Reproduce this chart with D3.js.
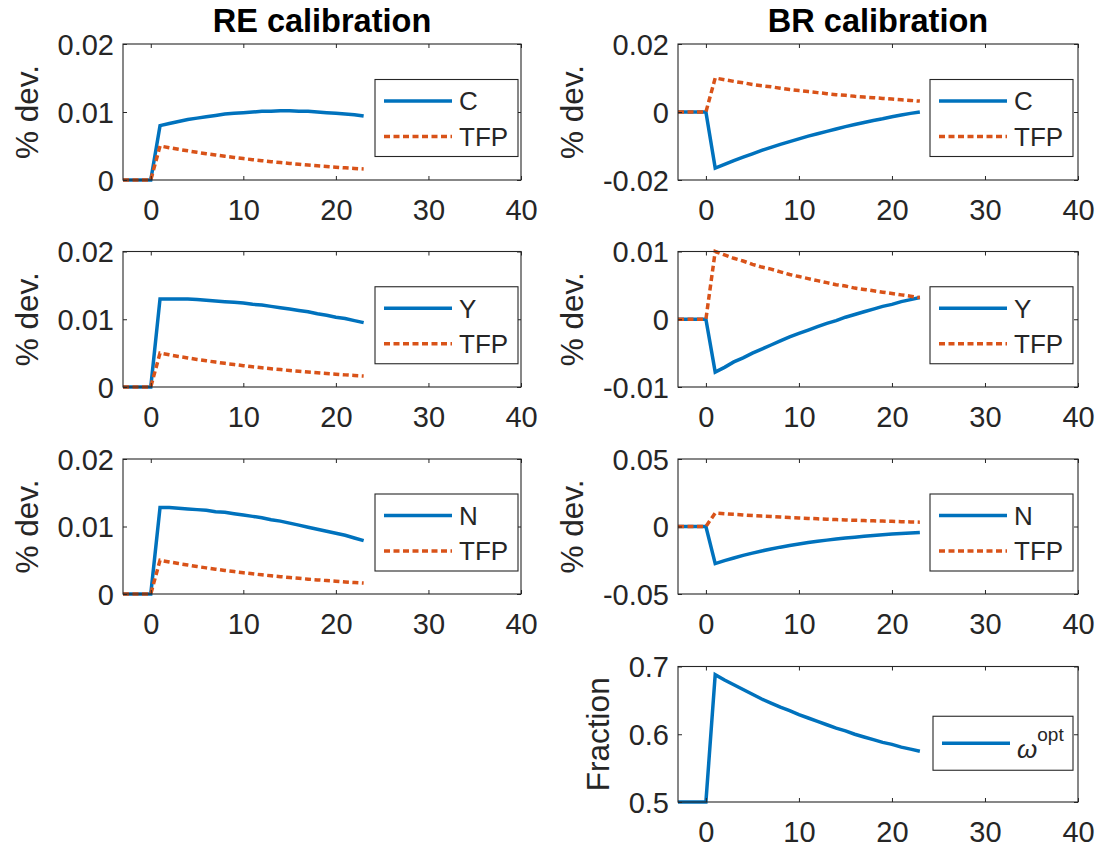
<!DOCTYPE html>
<html><head><meta charset="utf-8">
<script src="https://cdn.jsdelivr.net/npm/d3@7"></script>
<style>body{margin:0;background:#fff}</style>
</head><body>
<svg id="c" width="1102" height="853"></svg>
<script>
// ---------- data ----------
const periods = [-3,-2,-1,0,1,2,3,4,5,6,7,8,9,10,11,12,13,14,15,16,17,18,19,20,21,22,23];

const reTFP = [0,0,0,0,0.00500,0.00475,0.00451,0.00429,0.00407,0.00387,0.00368,0.00349,0.00332,0.00315,0.00299,0.00284,0.00270,0.00257,0.00244,0.00232,0.00220,0.00209,0.00199,0.00189,0.00179,0.00170,0.00162];
const brTFP = [0,0,0,0,0.0100,0.0095,0.0090,0.0086,0.0081,0.0077,0.0074,0.0070,0.0066,0.0063,0.0060,0.0057,0.0054,0.0051,0.0049,0.0046,0.0044,0.0042,0.0040,0.0038,0.0036,0.0034,0.0032];

const reC = [0,0,0,0,0.0080,0.0083,0.0086,0.0089,0.0091,0.0093,0.0095,0.0097,0.0098,0.0099,0.0100,0.0101,0.0101,0.0102,0.0102,0.0101,0.0101,0.0100,0.0099,0.0098,0.0097,0.0096,0.0094];
const reY = [0,0,0,0,0.0130,0.0130,0.0130,0.0130,0.0129,0.0128,0.0127,0.0126,0.0125,0.0124,0.0122,0.0121,0.0119,0.0117,0.0115,0.0113,0.0111,0.0108,0.0106,0.0103,0.0101,0.0098,0.0095];
const reN = [0,0,0,0,0.0128,0.0128,0.0127,0.0126,0.0125,0.0124,0.0122,0.0121,0.0119,0.0117,0.0115,0.0113,0.0110,0.0108,0.0105,0.0102,0.0099,0.0096,0.0093,0.0090,0.0087,0.0083,0.0079];

const brC = [0,0,0,0,-0.0165,-0.0154,-0.0143,-0.0133,-0.0123,-0.0113,-0.0104,-0.0095,-0.0087,-0.0079,-0.0071,-0.0064,-0.0057,-0.0050,-0.0043,-0.0037,-0.0031,-0.0025,-0.0020,-0.0014,-0.0009,-0.0004,0.0000];
const brY = [0,0,0,0,-0.0078,-0.0071,-0.0063,-0.0057,-0.0050,-0.0044,-0.0038,-0.0032,-0.0026,-0.0021,-0.0016,-0.0011,-0.0006,-0.0002,0.0003,0.0007,0.0011,0.0015,0.0019,0.0022,0.0026,0.0029,0.0032];
const brN = [0,0,0,0,-0.0275,-0.0253,-0.0233,-0.0214,-0.0197,-0.0181,-0.0167,-0.0153,-0.0141,-0.0130,-0.0119,-0.0110,-0.0101,-0.0093,-0.0085,-0.0079,-0.0072,-0.0066,-0.0061,-0.0056,-0.0052,-0.0048,-0.0044];

const omegaOpt = [0.5,0.5,0.5,0.5,0.688,0.680,0.673,0.666,0.659,0.652,0.646,0.640,0.635,0.629,0.624,0.619,0.614,0.609,0.605,0.600,0.596,0.592,0.588,0.585,0.581,0.578,0.575];

const xTicks = [0,10,20,30,40];
const xTickLabels = ["0","10","20","30","40"];
const yTicksA = [0,0.01,0.02];       const yTickLabelsA = ["0","0.01","0.02"];
const yTicksBC = [-0.02,0,0.02];     const yTickLabelsBC = ["-0.02","0","0.02"];
const yTicksBY = [-0.01,0,0.01];     const yTickLabelsBY = ["-0.01","0","0.01"];
const yTicksBN = [-0.05,0,0.05];     const yTickLabelsBN = ["-0.05","0","0.05"];
const yTicksW = [0.5,0.6,0.7];       const yTickLabelsW = ["0.5","0.6","0.7"];

const columnTitles = ["RE calibration","BR calibration"];

// ---------- styling / layout ----------
const FONT = "'Liberation Sans', Arial, Helvetica, sans-serif";
const AX = "#262626";
const BLUE = "#0072BD", ORANGE = "#D95319";
const colX = [{l:123, r:521},{l:678, r:1078}];
const rowY = [{t:44,b:180},{t:251.5,b:387},{t:459,b:594},{t:666.5,b:802}];

const solid = (name, data) => ({name, data, color:BLUE, dash:null});
const dotted = (name, data) => ({name, data, color:ORANGE, dash:"6,3.5"});

const panels = [
 {col:0,row:0,dom:[0,0.02],ticks:yTicksA,labels:yTickLabelsA,ylab:"% dev.",series:[solid("C",reC),dotted("TFP",reTFP)]},
 {col:1,row:0,dom:[-0.02,0.02],ticks:yTicksBC,labels:yTickLabelsBC,ylab:"% dev.",series:[solid("C",brC),dotted("TFP",brTFP)]},
 {col:0,row:1,dom:[0,0.02],ticks:yTicksA,labels:yTickLabelsA,ylab:"% dev.",series:[solid("Y",reY),dotted("TFP",reTFP)]},
 {col:1,row:1,dom:[-0.01,0.01],ticks:yTicksBY,labels:yTickLabelsBY,ylab:"% dev.",series:[solid("Y",brY),dotted("TFP",brTFP)]},
 {col:0,row:2,dom:[0,0.02],ticks:yTicksA,labels:yTickLabelsA,ylab:"% dev.",series:[solid("N",reN),dotted("TFP",reTFP)]},
 {col:1,row:2,dom:[-0.05,0.05],ticks:yTicksBN,labels:yTickLabelsBN,ylab:"% dev.",series:[solid("N",brN),dotted("TFP",brTFP)]},
 {col:1,row:3,dom:[0.5,0.7],ticks:yTicksW,labels:yTickLabelsW,ylab:"Fraction",series:[solid("omega",omegaOpt)],omega:true}
];

const svg = d3.select("#c");
const TICK = 4;

panels.forEach(p => {
  const cx = colX[p.col], ry = rowY[p.row];
  const x = d3.scaleLinear().domain([-3,40]).range([cx.l, cx.r]);
  const y = d3.scaleLinear().domain(p.dom).range([ry.b, ry.t]);
  const g = svg.append("g");

  const clipId = "clip"+p.col+p.row;
  svg.append("clipPath").attr("id",clipId).append("rect")
    .attr("x",cx.l).attr("y",ry.t-3).attr("width",cx.r-cx.l+3).attr("height",ry.b-ry.t+6);
  p.series.forEach(s => {
    const line = d3.line().x((d,i)=>x(periods[i])).y(d=>y(d));
    g.append("path").attr("d",line(s.data)).attr("fill","none")
      .attr("stroke",s.color).attr("stroke-width",3.5)
      .attr("stroke-dasharray",s.dash).attr("stroke-linejoin","miter")
      .attr("clip-path","url(#"+clipId+")");
  });

  const styleAxis = sel => { sel.select(".domain").remove(); sel.selectAll("line").attr("stroke",AX); sel.selectAll("text").attr("fill",AX).style("font-family",FONT).style("font-size","29px"); };
  const xb = g.append("g").attr("transform",`translate(0,${ry.b})`)
    .call(d3.axisBottom(x).tickValues(xTicks).tickFormat((d,i)=>xTickLabels[i]).tickSizeInner(-TICK).tickSizeOuter(0).tickPadding(19));
  styleAxis(xb);
  const xt = g.append("g").attr("transform",`translate(0,${ry.t})`)
    .call(d3.axisTop(x).tickValues(xTicks).tickFormat("").tickSizeInner(-TICK).tickSizeOuter(0));
  styleAxis(xt);
  const yl = g.append("g").attr("transform",`translate(${cx.l},0)`)
    .call(d3.axisLeft(y).tickValues(p.ticks).tickFormat((d,i)=>p.labels[i]).tickSizeInner(-TICK).tickSizeOuter(0).tickPadding(9));
  styleAxis(yl);
  yl.selectAll("text").attr("dy","0.36em");
  const yr = g.append("g").attr("transform",`translate(${cx.r},0)`)
    .call(d3.axisRight(y).tickValues(p.ticks).tickFormat("").tickSizeInner(-TICK).tickSizeOuter(0));
  styleAxis(yr);

  g.append("rect").attr("x",cx.l).attr("y",ry.t).attr("width",cx.r-cx.l).attr("height",ry.b-ry.t)
    .attr("fill","none").attr("stroke",AX).attr("stroke-width",1.1);

  // y label
  const bb = yl.node().getBBox();
  const lx = cx.l + bb.x - 20;
  g.append("text").attr("transform",`translate(${lx},${(ry.t+ry.b)/2}) rotate(-90)`)
    .attr("text-anchor","middle").attr("fill",AX)
    .style("font-family",FONT).style("font-size","31.5px").text(p.ylab);

  // legend
  const lw = p.omega ? 140 : 143;
  const lh = p.omega ? 54 : 77;
  const lr = cx.r - (p.col===0 ? 3 : 5);
  const lt = (ry.t+ry.b)/2 + (p.omega ? 9 : 6) - lh/2;
  const lg = g.append("g");
  lg.append("rect").attr("x",lr-lw).attr("y",lt).attr("width",lw).attr("height",lh)
    .attr("fill","#fff").attr("stroke",AX).attr("stroke-width",1.1);
  p.series.forEach((s,i) => {
    const rowc = lt + (p.omega ? lh/2 : (i===0 ? 21.5 : 57));
    const x0 = lr-lw+9;
    lg.append("line").attr("x1",x0).attr("x2",x0+68).attr("y1",rowc).attr("y2",rowc)
      .attr("stroke",s.color).attr("stroke-width",3.5).attr("stroke-dasharray",s.dash);
    const t = lg.append("text").attr("x",x0+75).attr("y",rowc).attr("dy","0.36em")
      .attr("fill",AX).style("font-family",FONT).style("font-size","26px");
    if (s.name === "omega") {
      t.append("tspan").style("font-style","italic").attr("dy","0.55em").text("ω");
      t.append("tspan").attr("dy","-0.85em").style("font-size","19px").text("opt");
    } else t.text(s.name);
  });
});

columnTitles.forEach((tt,i) => {
  svg.append("text").attr("x",(colX[i].l+colX[i].r)/2).attr("y",32)
    .attr("text-anchor","middle").attr("fill","#000")
    .style("font-family",FONT).style("font-size","32.5px").style("font-weight","bold").text(tt);
});
</script>
</body></html>
